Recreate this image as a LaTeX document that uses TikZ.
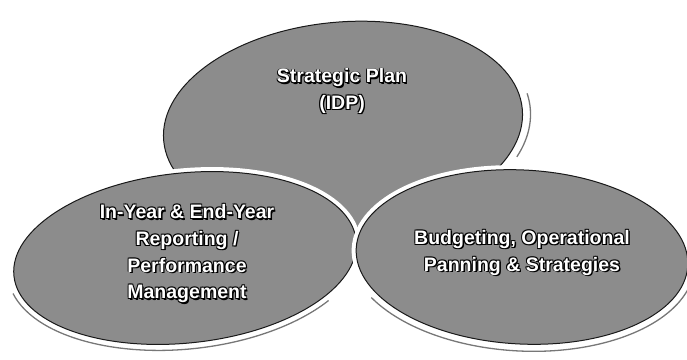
\documentclass[tikz,border=0pt]{standalone}
\usepackage{fontspec}
\setmainfont{Liberation Sans}
\definecolor{blobgrey}{HTML}{8C8C8C}
\definecolor{rimgrey}{HTML}{777777}
% white letters with a dark outline and a small drop shadow
\newcommand\olt[1]{%
  \rlap{\kern1.4pt\raisebox{-1.4pt}{\color{black}#1}}%
  \rlap{\kern0.8pt\raisebox{0.8pt}{\color{black}#1}}%
  \rlap{\kern-0.8pt\raisebox{0.8pt}{\color{black}#1}}%
  \rlap{\kern0.8pt\raisebox{-0.8pt}{\color{black}#1}}%
  \rlap{\kern-0.8pt\raisebox{-0.8pt}{\color{black}#1}}%
  {\color{white}#1}}
\begin{document}
\begin{tikzpicture}[x=1pt,y=1pt,
  blob/.style={fill=blobgrey, draw=black!90, line width=1pt},
  gap/.style={draw=white, line width=9pt},
  rim/.style={draw=rimgrey, line width=1.3pt},
  caption/.style={align=center, inner sep=0pt,
    font=\fontsize{19.5}{26.7}\selectfont\bfseries}]
\useasboundingbox (0,0) rectangle (687,359);

% Strategic Plan (upper shape)
\begin{scope}[shift={(343,234)}, rotate=5]
  \draw[rim] (-25:188 and 111) arc[start angle=-25, end angle=8, x radius=188, y radius=111];
  \path[blob] (0,0) ellipse [x radius=180, y radius=103];
\end{scope}

% Reporting / Performance Management (lower left shape)
\begin{scope}[shift={(185,101)}, rotate=6]
  \draw[rim] (191:178 and 91) arc[start angle=191, end angle=321, x radius=178, y radius=91];
  \path[gap] (0,0) ellipse [x radius=172, y radius=85];
  \path[blob] (0,0) ellipse [x radius=172, y radius=85];
\end{scope}

% Budgeting (lower right shape)
\begin{scope}[shift={(522,102)}, rotate=-3]
  \draw[rim] (211:173 and 94) arc[start angle=211, end angle=349, x radius=173, y radius=94];
  \path[gap] (0,0) ellipse [x radius=166, y radius=87];
  \path[blob] (0,0) ellipse [x radius=166, y radius=87];
\end{scope}

\node[caption] (plan) at (342,267.5) {\olt{Strategic Plan}\\\olt{(IDP)}};
\node[caption] (report) at (187,105) {\olt{In-Year \& End-Year}\\\olt{Reporting /}\\\olt{Performance}\\\olt{Management}};
\node[caption] (budget) at (522,106) {\olt{Budgeting, Operational}\\\olt{Panning \& Strategies}};
\end{tikzpicture}
\end{document}
